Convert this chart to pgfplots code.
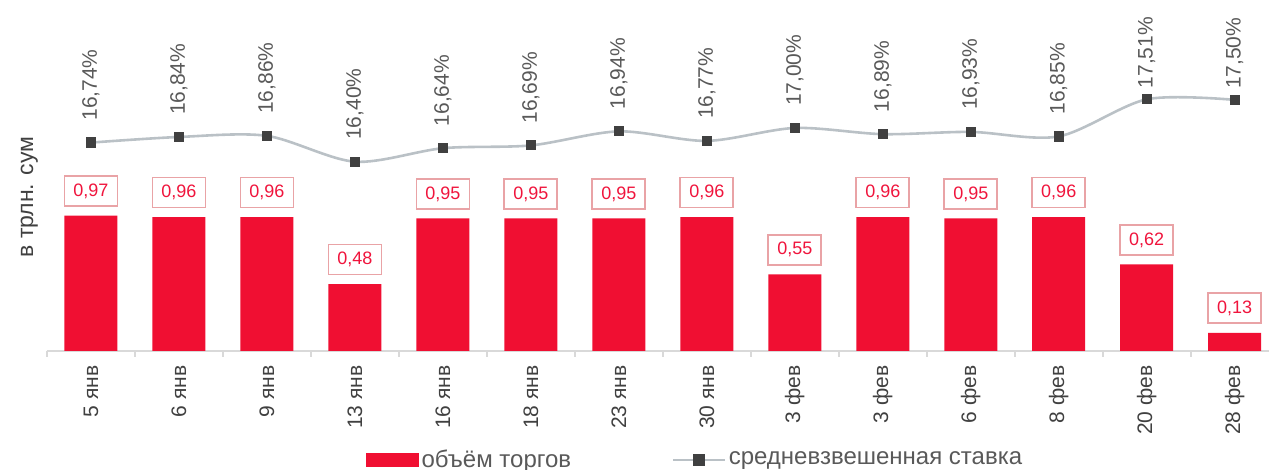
\documentclass[border=0pt]{standalone}
\usepackage{fontspec}
\setmainfont{Liberation Sans}
\usepackage{pgfplots}
\pgfplotsset{compat=1.18}
\definecolor{barred}{HTML}{F00F32}
\definecolor{boxred}{HTML}{E9A3A6}
\definecolor{lblred}{HTML}{F0143C}
\definecolor{linegray}{HTML}{BAC1C6}
\definecolor{markgray}{HTML}{404040}
\definecolor{axgray}{HTML}{D9D9D9}
\definecolor{txtgray}{HTML}{404040}
\definecolor{txtgray2}{HTML}{595959}

\pgfplotstableread{
x y lbl
0 0.97 0,97
1 0.96 0,96
2 0.96 0,96
3 0.48 0,48
4 0.95 0,95
5 0.95 0,95
6 0.95 0,95
7 0.96 0,96
8 0.55 0,55
9 0.96 0,96
10 0.95 0,95
11 0.96 0,96
12 0.62 0,62
13 0.13 0,13
}\volume

\pgfplotstableread{
x y lbl off
0 16.74 16,74 11
1 16.84 16,84 11
2 16.86 16,86 11
3 16.40 16,40 11
4 16.64 16,64 11
5 16.69 16,69 11
6 16.94 16,94 11
7 16.77 16,77 11
8 17.00 17,00 11
9 16.89 16,89 11
10 16.93 16,93 11
11 16.85 16,85 11
12 17.51 17,51 5.5
13 17.50 17,50 5.5
}\rate

\begin{document}
\begin{tikzpicture}
\useasboundingbox (0,0) rectangle (634.5pt,235pt);
\begin{axis}[
  at={(23.5pt,59.5pt)}, anchor=south west,
  scale only axis, width=611pt, height=170.5pt,
  xmin=-0.5, xmax=13.39, ymin=0, ymax=2.444,
  axis x line=bottom, hide y axis,
  x axis line style={-, draw=axgray, line width=1pt},
  xtick={0,...,13},
  xticklabels={5 янв, 6 янв, 9 янв, 13 янв, 16 янв, 18 янв, 23 янв, 30 янв, 3 фев, 3 фев, 6 фев, 8 фев, 20 фев, 28 фев},
  tick align=outside,
  major tick length=0pt,
  xticklabel style={rotate=90, anchor=east, inner sep=0pt, font=\fontsize{10.5}{12}\selectfont, text=txtgray},
  xticklabel shift=7pt,
  extra x ticks={-0.5,0.5,...,12.5}, extra x tick labels={},
  extra x tick style={major tick length=3pt, tick style={draw=axgray, line width=1pt}},
  ybar, bar width=26.5pt,
  clip=false,
]
\addplot[fill=barred, draw=none,
  nodes near coords, point meta=explicit symbolic,
  every node near coord/.append style={draw=boxred, line width=0.9pt, fill=white, text=lblred,
    font=\fontsize{9}{11}\selectfont, minimum width=26.5pt, minimum height=15pt, inner sep=0pt,
    anchor=south, yshift=4.3pt}]
  table[x=x, y=y, meta=lbl] {\volume};
\end{axis}

\begin{axis}[
  at={(23.5pt,59.5pt)}, anchor=south west,
  scale only axis, width=611pt, height=170.5pt,
  xmin=-0.5, xmax=13.39, ymin=13.032, ymax=19.099,
  hide axis, clip=false,
  legend columns=2,
  legend style={at={(0.261,-0.3196)}, anchor=west, draw=none, fill=none, inner sep=0pt,
    font=\fontsize{12}{14}\selectfont, text=txtgray2,
    nodes={inner xsep=1.25pt, inner ysep=1pt},
    /tikz/every even column/.append style={column sep=49pt}},
]
\addlegendimage{legend image code/.code={\fill[barred] (0pt,-3.25pt) rectangle (26pt,3.25pt);}}
\addlegendentry{объём торгов}
\addplot[smooth, color=linegray, line width=1.3pt,
  mark=square*, mark size=2.3pt, mark options={fill=markgray, draw=markgray, line width=0pt},
  nodes near coords={\pgfplotspointmeta\%}, point meta=explicit symbolic,
  visualization depends on={\thisrow{off}\as\laboff},
  every node near coord/.append style={rotate=90, anchor=west, inner sep=0pt, outer xsep=\laboff pt,
    font=\fontsize{10.5}{12}\selectfont, text=txtgray2},
  legend image code/.code={\draw[linegray, line width=1.3pt] (0pt,0pt)--(26pt,0pt); \fill[markgray] (10.7pt,-2.3pt) rectangle (15.3pt,2.3pt);}]
  table[x=x, y=y, meta=lbl] {\rate};
\addlegendentry{средневзвешенная ставка}
\end{axis}

\node[rotate=90, anchor=base, font=\fontsize{11.5}{13}\selectfont, text=txtgray] at (16.5pt,136.5pt) {в трлн. сум};
\end{tikzpicture}
\end{document}
